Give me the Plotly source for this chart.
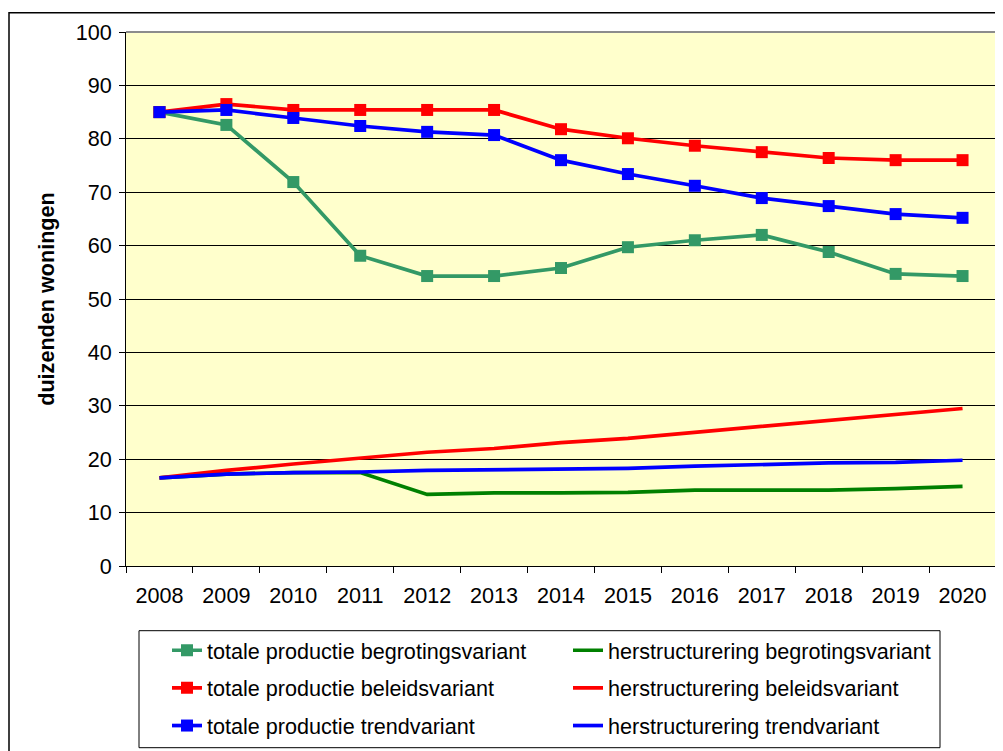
import plotly.graph_objects as go

years = [str(y) for y in range(2008, 2021)]

totaal_begroting = [85.0, 82.6, 71.9, 58.1, 54.3, 54.3, 55.8, 59.7, 61.0, 62.0, 58.8, 54.7, 54.3]
totaal_beleid = [85.0, 86.5, 85.4, 85.4, 85.4, 85.4, 81.8, 80.1, 78.7, 77.5, 76.4, 76.0, 76.0]
totaal_trend = [85.0, 85.4, 83.9, 82.4, 81.3, 80.7, 76.0, 73.4, 71.2, 68.9, 67.4, 65.9, 65.2]

herstr_begroting = [16.5, 17.2, 17.5, 17.5, 13.4, 13.7, 13.7, 13.8, 14.2, 14.2, 14.2, 14.5, 14.9]
herstr_beleid = [16.5, 17.9, 19.1, 20.2, 21.3, 22.0, 23.1, 23.9, 25.0, 26.1, 27.2, 28.4, 29.5]
herstr_trend = [16.5, 17.2, 17.5, 17.6, 17.9, 18.0, 18.2, 18.3, 18.7, 19.0, 19.3, 19.4, 19.8]

GREEN = "#339966"
DKGREEN = "#008000"
RED = "#FF0000"
BLUE = "#0000FF"
FONT = "Liberation Sans, Arial, sans-serif"
FS = 21.6

fig = go.Figure()

def tot(name, vals, color, leg):
    fig.add_trace(go.Scatter(x=years, y=vals, name=name, mode="lines+markers",
                             line=dict(color=color, width=3.7),
                             marker=dict(symbol="square", size=12, color=color),
                             legend=leg))

def her(name, vals, color, leg):
    fig.add_trace(go.Scatter(x=years, y=vals, name=name, mode="lines",
                             line=dict(color=color, width=3.7), legend=leg))

her("herstructurering begrotingsvariant", herstr_begroting, DKGREEN, "legend")
her("herstructurering beleidsvariant", herstr_beleid, RED, "legend2")
her("herstructurering trendvariant", herstr_trend, BLUE, "legend3")
tot("totale productie begrotingsvariant", totaal_begroting, GREEN, "legend")
tot("totale productie beleidsvariant", totaal_beleid, RED, "legend2")
tot("totale productie trendvariant", totaal_trend, BLUE, "legend3")

OFF = 8  # page body margin
W, H = 1003, 751
PL, PT, PR, PB = 126 - OFF, 32 - OFF, 996 - OFF, 566 - OFF
L, R, T, B = PL, W - PR, PT, H - PB
pw, ph = PR - PL, PB - PT

def px(x):
    return (x - OFF - L) / pw

def py(y):
    return (PB - (y - OFF)) / ph

leg_common = dict(orientation="h", xanchor="left", yanchor="middle",
                  font=dict(family=FONT, size=FS, color="black"),
                  bgcolor="rgba(0,0,0,0)", borderwidth=0, entrywidth=356,
                  traceorder="reversed")
legx = px(167)

fig.update_layout(
    width=W, height=H,
    margin=dict(l=L, r=R, t=T, b=B, autoexpand=False),
    paper_bgcolor="white",
    plot_bgcolor="#FFFFCC",
    font=dict(family=FONT, size=FS, color="black"),
    showlegend=True,
    legend=dict(x=legx, y=py(650.7), **leg_common),
    legend2=dict(x=legx, y=py(688.3), **leg_common),
    legend3=dict(x=legx, y=py(726), **leg_common),
    xaxis=dict(type="category", range=[-0.5, 12.5], tickson="boundaries",
               ticks="outside", ticklen=6, tickcolor="black", tickwidth=1,
               ticklabelstandoff=10,
               showline=True, linecolor="black", linewidth=1,
               showgrid=False, tickfont=dict(family=FONT, size=FS)),
    yaxis=dict(range=[0, 100], dtick=10, ticks="outside", ticklen=6,
               tickcolor="black", tickwidth=1, showline=True, linecolor="black",
               ticklabelstandoff=3,
               linewidth=1, showgrid=True, gridcolor="black", gridwidth=1,
               zeroline=False, tickfont=dict(family=FONT, size=FS),
               title=dict(text="<b>duizenden woningen</b>", standoff=15,
                          font=dict(family=FONT, size=FS))),
    shapes=[
        dict(type="line", xref="paper", yref="paper", x0=0, x1=1, y0=1, y1=1,
             line=dict(color="#8C8C8C", width=2)),
        dict(type="line", xref="paper", yref="paper", x0=1, x1=1, y0=0, y1=1,
             line=dict(color="#8C8C8C", width=2)),
        dict(type="rect", xref="paper", yref="paper", x0=px(9), x1=px(1020),
             y0=py(775), y1=py(12.7), line=dict(color="black", width=1.5),
             layer="below"),
        dict(type="rect", xref="paper", yref="paper", x0=px(139), x1=px(940),
             y0=py(747.7), y1=py(630.7), line=dict(color="black", width=1)),
    ],
)

fig.write_html("out.html")
